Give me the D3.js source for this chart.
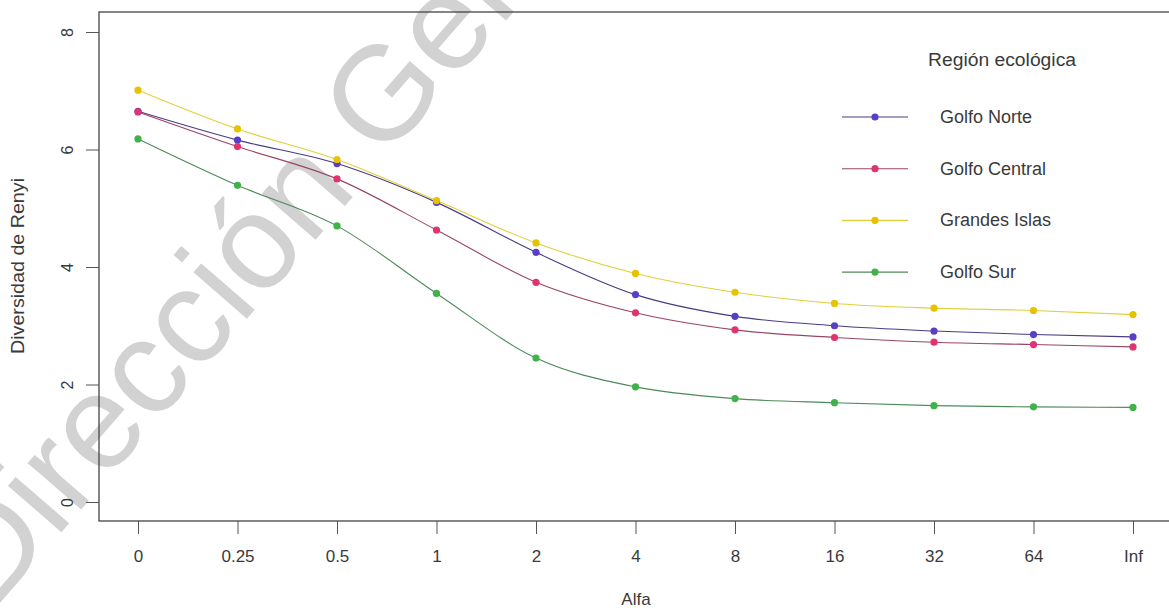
<!DOCTYPE html>
<html><head><meta charset="utf-8">
<script src="https://cdn.jsdelivr.net/npm/d3@7"></script>
<style>body{margin:0;background:#fff}svg{display:block;font-family:"Liberation Sans",Arial,sans-serif}</style>
</head><body>
<svg id="c" width="1169" height="612"></svg>
<script>
const alphas = ["0","0.25","0.5","1","2","4","8","16","32","64","Inf"];
const golfoNorte   = [6.65, 6.16, 5.76, 5.10, 4.25, 3.53, 3.16, 3.00, 2.91, 2.85, 2.81];
const golfoCentral = [6.64, 6.05, 5.50, 4.63, 3.74, 3.22, 2.93, 2.80, 2.72, 2.68, 2.64];
const grandesIslas = [7.01, 6.35, 5.83, 5.13, 4.41, 3.89, 3.57, 3.38, 3.30, 3.26, 3.19];
const golfoSur     = [6.18, 5.39, 4.70, 3.55, 2.45, 1.96, 1.76, 1.69, 1.64, 1.62, 1.61];
const seriesNames  = ["Golfo Norte","Golfo Central","Grandes Islas","Golfo Sur"];
const yTicks = [0,2,4,6,8];

const series = [
  {name: seriesNames[0], values: golfoNorte,   point:"#5a3fc6", line:"#4a3b86"},
  {name: seriesNames[1], values: golfoCentral, point:"#e0336f", line:"#9a4466"},
  {name: seriesNames[2], values: grandesIslas, point:"#e6c200", line:"#e2cf3c"},
  {name: seriesNames[3], values: golfoSur,     point:"#3fb24a", line:"#4c8a58"}
];

const svg = d3.select("#c");
const L = 99, T = 12, B = 521, R = 1175;

const x = d3.scalePoint().domain(alphas).range([138, 1133]);
const y = d3.scaleLinear().domain([0, 8]).range([502, 32]);

// watermark
svg.append("text")
  .attr("transform", "translate(-8,612) rotate(-49)")
  .attr("font-size", 134)
  .attr("fill", "#d2d2d2")
  .attr("font-family", "Liberation Sans, Arial, sans-serif")
  .text("Dirección General");

// box
svg.append("rect").attr("x", L).attr("y", T).attr("width", R - L).attr("height", B - T)
  .attr("fill", "none").attr("stroke", "#444").attr("stroke-width", 1.3);

// y axis
const ya = svg.append("g").attr("transform", `translate(${L},0)`)
  .call(d3.axisLeft(y).tickValues(yTicks).tickSize(13).tickPadding(0).tickFormat(d3.format("d")));
ya.select(".domain").remove();
ya.selectAll(".tick line").attr("stroke", "#555");
ya.selectAll(".tick text").attr("transform", "translate(-32,0) rotate(-90)")
  .attr("text-anchor", "middle").attr("dy", "0.35em").attr("x", 0)
  .attr("font-size", 16).attr("fill", "#3a3a3a");

// x axis
const xa = svg.append("g").attr("transform", `translate(0,${B})`)
  .call(d3.axisBottom(x).tickSize(13).tickPadding(16));
xa.select(".domain").remove();
xa.selectAll(".tick line").attr("stroke", "#555");
xa.selectAll(".tick text").attr("font-size", 17).attr("fill", "#3a3a3a");

svg.append("text").attr("x", 636).attr("y", 605).attr("text-anchor", "middle")
  .attr("font-size", 17).attr("fill", "#3a3a3a").text("Alfa");
svg.append("text").attr("transform", "translate(24,266) rotate(-90)").attr("text-anchor", "middle")
  .attr("font-size", 18).attr("fill", "#3a3a3a")
  .attr("textLength", 176).attr("lengthAdjust", "spacingAndGlyphs")
  .text("Diversidad de Renyi");

// lines and points
const line = d3.line().x((d, i) => x(alphas[i])).y(d => y(d)).curve(d3.curveMonotoneX);
series.forEach(s => {
  svg.append("path").datum(s.values).attr("d", line)
    .attr("fill", "none").attr("stroke", s.line).attr("stroke-width", 1.1);
});
series.forEach(s => {
  svg.selectAll(null).data(s.values).enter().append("circle")
    .attr("cx", (d, i) => x(alphas[i])).attr("cy", d => y(d)).attr("r", 3.6)
    .attr("fill", s.point);
});

// legend
const lg = svg.append("g");
lg.append("text").attr("x", 1002).attr("y", 66).attr("text-anchor", "middle")
  .attr("font-size", 18).attr("fill", "#3a3a3a")
  .attr("textLength", 148).attr("lengthAdjust", "spacingAndGlyphs")
  .text("Región ecológica");
series.forEach((s, i) => {
  const yy = 117 + i * 51.7;
  lg.append("line").attr("x1", 842).attr("x2", 908).attr("y1", yy).attr("y2", yy)
    .attr("stroke", s.line).attr("stroke-width", 1.1);
  lg.append("circle").attr("cx", 875).attr("cy", yy).attr("r", 3.6).attr("fill", s.point);
  lg.append("text").attr("x", 940).attr("y", yy + 6).attr("font-size", 18)
    .attr("fill", "#3a3a3a").text(s.name);
});
</script>
</body></html>
